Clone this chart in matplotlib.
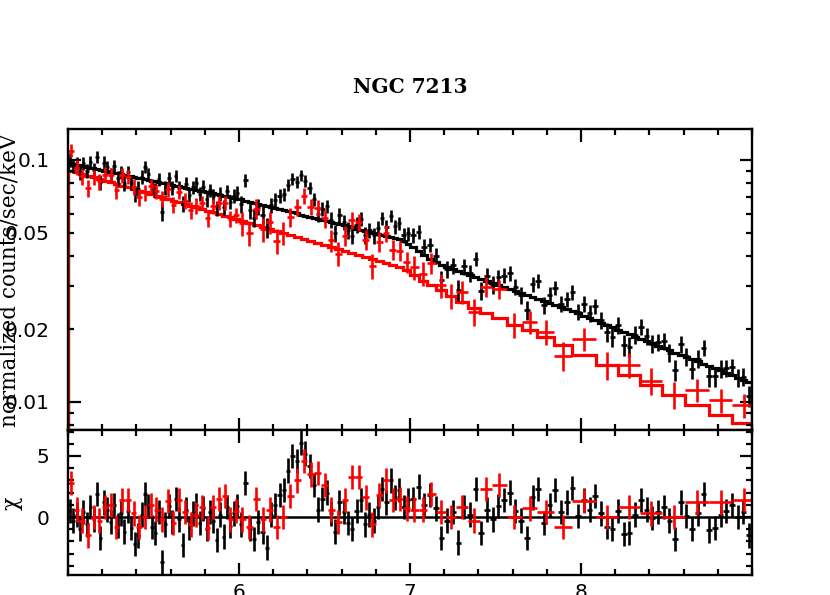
import numpy as np
import matplotlib
matplotlib.use('Agg')
import matplotlib.pyplot as plt
from matplotlib.ticker import MultipleLocator

# Bin edges (keV)
black_edges = [
    5.00, 5.02, 5.04, 5.06, 5.08, 5.10, 5.12, 5.14, 5.16, 5.18, 5.20, 5.22, 5.24, 5.26, 5.28,
    5.30, 5.32, 5.34, 5.36, 5.38, 5.40, 5.42, 5.44, 5.46, 5.48, 5.50, 5.52, 5.54, 5.56, 5.58,
    5.60, 5.62, 5.64, 5.66, 5.68, 5.70, 5.72, 5.74, 5.76, 5.78, 5.80, 5.82, 5.84, 5.86, 5.88,
    5.90, 5.92, 5.94, 5.96, 5.98, 6.00,
    6.025, 6.05, 6.075, 6.10, 6.125, 6.15, 6.175, 6.20, 6.225, 6.25, 6.275, 6.30, 6.325, 6.35,
    6.375, 6.40, 6.425, 6.45, 6.475, 6.50, 6.525, 6.55, 6.575, 6.60, 6.625, 6.65, 6.675, 6.70,
    6.725, 6.75, 6.775, 6.80, 6.825, 6.85, 6.875, 6.90, 6.925, 6.95, 6.975, 7.00,
    7.033, 7.067, 7.10, 7.133, 7.167, 7.20, 7.233, 7.267, 7.30, 7.333, 7.367, 7.40, 7.433, 7.467,
    7.50, 7.533, 7.567, 7.60, 7.633, 7.667, 7.70, 7.733, 7.767, 7.80, 7.833, 7.867, 7.90, 7.933,
    7.967, 8.00,
    8.033, 8.067, 8.10, 8.133, 8.167, 8.20, 8.233, 8.267, 8.30, 8.333, 8.367, 8.40, 8.433, 8.467,
    8.50, 8.533, 8.567, 8.60, 8.633, 8.667, 8.70, 8.733, 8.767, 8.80, 8.833, 8.867, 8.90, 8.933,
    8.967, 9.00,
]

# folded model, counts/sec/keV
black_model = [
    0.0968, 0.0961, 0.0955, 0.0948, 0.0942, 0.0935, 0.0929, 0.0922, 0.0916, 0.0910,
    0.0903, 0.0897, 0.0891, 0.0885, 0.0879, 0.0873, 0.0867, 0.0861, 0.0855, 0.0849,
    0.0843, 0.0838, 0.0832, 0.0826, 0.0821, 0.0815, 0.0810, 0.0804, 0.0799, 0.0793,
    0.0788, 0.0782, 0.0777, 0.0772, 0.0767, 0.0761, 0.0756, 0.0751, 0.0746, 0.0741,
    0.0736, 0.0731, 0.0726, 0.0721, 0.0716, 0.0711, 0.0706, 0.0701, 0.0697, 0.0692,
    0.0686, 0.0679, 0.0672, 0.0665, 0.0659, 0.0652, 0.0645, 0.0639, 0.0632, 0.0626,
    0.0619, 0.0613, 0.0607, 0.0601, 0.0594, 0.0588, 0.0582, 0.0576, 0.0571, 0.0565,
    0.0559, 0.0553, 0.0548, 0.0542, 0.0537, 0.0531, 0.0526, 0.0520, 0.0515, 0.0510,
    0.0505, 0.0499, 0.0494, 0.0489, 0.0484, 0.0479, 0.0474, 0.0470, 0.0462, 0.0449,
    0.0437, 0.0421, 0.0405, 0.0390, 0.0379, 0.0368, 0.0362, 0.0355, 0.0348, 0.0341,
    0.0335, 0.0329, 0.0322, 0.0316, 0.0310, 0.0305, 0.0299, 0.0293, 0.0288, 0.0282,
    0.0277, 0.0272, 0.0267, 0.0262, 0.0257, 0.0252, 0.0247, 0.0243, 0.0238, 0.0234,
    0.0227, 0.0222, 0.0217, 0.0212, 0.0208, 0.0203, 0.0199, 0.0195, 0.0190, 0.0186,
    0.0182, 0.0178, 0.0175, 0.0171, 0.0167, 0.0164, 0.0160, 0.0157, 0.0153, 0.0150,
    0.0147, 0.0144, 0.0141, 0.0138, 0.0135, 0.0132, 0.0129, 0.0126, 0.0123, 0.0121,
]

# residuals (data - model) / error
black_chi = [
    0.5, -0.3, 0.2, -1.0, 0.4, -0.6, 0.8, -0.2, 1.9, -1.7,
    1.2, 0.6, -0.4, 1.0, -0.7, 0.3, -1.2, 0.5, -0.9, -2.2,
    -1.5, 0.2, 1.9, 0.9, -0.8, -1.3, 0.4, -3.7, -0.6, 0.9,
    -0.4, 1.5, -0.2, -2.3, 0.6, -0.9, 0.3, 1.0, -0.5, 0.7,
    -1.0, 0.4, -0.3, -1.9, 0.2, -1.6, 0.8, -0.7, 0.3, 0.9,
    -0.6, 2.8, -1.0, -1.8, -0.4, -1.2, -2.5, 0.2, 1.0, 1.8,
    2.2, 3.8, 5.0, 4.6, 6.1, 5.2, 4.2, 2.6, 0.6, 1.5,
    2.0, 0.3, -1.2, 1.2, 0.4, -0.5, -1.0, 0.5, 1.4, -0.6,
    0.2, -0.3, 0.8, 2.3, 1.2, 3.0, 1.6, 2.2, 0.8, 1.4,
    1.5, 2.5, 1.0, 1.8, 0.7, -1.7, -0.3, 0.4, -2.1, 0.8,
    0.2, 2.3, -1.3, 0.6, -0.2, 0.9, 1.4, 2.0, 0.5, -0.3,
    -1.7, 1.6, 2.3, -0.5, 1.0, 2.2, 0.4, 1.2, 2.4, 0.1,
    1.4, 0.6, 1.7, 0.3, -0.8, -1.0, 0.5, -1.4, -1.3, 0.2,
    1.4, 0.6, -0.1, 0.4, 0.8, -0.3, -1.8, 1.2, 0.1, -1.0,
    0.3, 1.9, -1.1, -0.9, 0.2, 0.5, 1.0, 0.0, 0.4, -1.5,
]

# fractional 1-sigma error in 5-6, 6-7, 7-8, 8-9 keV
black_frac = [0.065, 0.075, 0.08, 0.085]

red_edges = [
    5.00, 5.033, 5.067, 5.10, 5.133, 5.167, 5.20, 5.233, 5.267, 5.30, 5.333, 5.367, 5.40,
    5.433, 5.467, 5.50, 5.533, 5.567, 5.60, 5.633, 5.667, 5.70, 5.733, 5.767, 5.80, 5.833,
    5.867, 5.90, 5.933, 5.967, 6.00,
    6.04, 6.08, 6.12, 6.16, 6.20, 6.24, 6.28, 6.32, 6.36, 6.40, 6.44, 6.48, 6.52, 6.56,
    6.60, 6.64, 6.68, 6.72, 6.76, 6.80, 6.84, 6.88, 6.92, 6.96, 7.00,
    7.05, 7.10, 7.15, 7.21, 7.27, 7.34, 7.41, 7.48, 7.565, 7.655, 7.745, 7.84, 7.945,
    8.09, 8.215, 8.345, 8.475, 8.61, 8.75, 8.885, 9.02,
]

red_model = [
    0.0902, 0.0888, 0.0874, 0.0860, 0.0847, 0.0833, 0.0820, 0.0807, 0.0795, 0.0782,
    0.0770, 0.0758, 0.0746, 0.0734, 0.0723, 0.0711, 0.0700, 0.0689, 0.0678, 0.0668,
    0.0657, 0.0647, 0.0637, 0.0627, 0.0617, 0.0607, 0.0598, 0.0588, 0.0579, 0.0570,
    0.0559, 0.0549, 0.0539, 0.0529, 0.0518, 0.0508, 0.0499, 0.0489, 0.0480, 0.0471,
    0.0462, 0.0454, 0.0445, 0.0437, 0.0429, 0.0421, 0.0413, 0.0405, 0.0397, 0.0390,
    0.0383, 0.0375, 0.0368, 0.0361, 0.0351,
    0.0335, 0.0316, 0.0305, 0.0290, 0.0274, 0.0259, 0.0245, 0.0234, 0.0223, 0.0208,
    0.0198, 0.0186, 0.0172,
    0.0156, 0.0142, 0.0129, 0.0118, 0.0107, 0.0097, 0.0088, 0.0082,
]

red_chi = [
    2.8, 0.6, -0.3, -1.5, 0.0, -0.3, 0.8, 1.0, -0.8, 1.4,
    1.4, 0.3, -0.8, 0.0, 1.0, 0.6, -0.2, 1.3, -0.5, 1.4,
    0.4, -0.6, 0.2, 0.8, -0.9, 0.8, 1.5, 1.7, -0.2, 0.5,
    -0.2, -0.8, 1.5, -0.2, 0.6, -0.8, 0.0, 1.7, 3.0, 4.6,
    3.5, 3.6, 2.6, 0.6, -0.4, 1.4, 3.3, 3.3, 1.6, -0.6,
    1.8, 3.0, 1.4, 1.5, 0.7,
    0.6, 0.6, 1.9, 0.4, 0.0, 0.8, -0.3, 2.3, 2.6, 0.0,
    0.7, 0.4, -0.8,
    1.3, 0.0, 0.8, 0.3, 0.0, 1.2, 1.2, 1.4,
]

red_frac = [0.075, 0.11, 0.12, 0.13]

title = 'NGC 7213'
ylabel_top = 'normalized counts/sec/keV'
ylabel_bottom = '\u03c7'


def prepare(edges, model, chi, frac):
    edges = np.array(edges)
    centers = (edges[:-1] + edges[1:]) / 2
    half = (edges[1:] - edges[:-1]) / 2
    model = np.array(model)
    chi = np.array(chi)
    seg = np.clip((centers - 5.0).astype(int), 0, 3)
    err = model * np.array(frac)[seg]
    data = model + chi * err
    return edges, centers, half, model, chi, err, data


black = prepare(black_edges, black_model, black_chi, black_frac)
red = prepare(red_edges, red_model, red_chi, red_frac)

W, H = 830, 595
fig = plt.figure(figsize=(W / 100, H / 100), dpi=100)
ax1 = fig.add_axes([68 / W, 165 / H, 684 / W, 301 / H])
ax2 = fig.add_axes([68 / W, 20 / H, 684 / W, 145 / H])

ax2.axhline(0, color='black', lw=1.8, zorder=1)

for ds, col in [(black, 'black'), (red, '#ff0000')]:
    edges, centers, half, model, chi, err, data = ds
    ax1.errorbar(centers, data, xerr=half, yerr=err, fmt='none',
                 ecolor=col, elinewidth=1.9, capsize=0)
    ax1.stairs(model, edges, color=col, lw=2.3)
    ax2.errorbar(centers, chi, xerr=half, yerr=1.0, fmt='none',
                 ecolor=col, elinewidth=1.9, capsize=0)

ax1.set_yscale('log')
ax1.set_xlim(5.0, 9.0)
ax1.set_ylim(0.00766, 0.134)
ax2.set_xlim(5.0, 9.0)
ax2.set_ylim(-4.75, 7.13)

ax1.set_yticks([0.01, 0.1], ['0.01', '0.1'])
ax1.set_yticks([0.008, 0.009, 0.02, 0.03, 0.04, 0.05, 0.06, 0.07, 0.08, 0.09],
               ['', '', '0.02', '', '', '0.05', '', '', '', ''], minor=True)
ax2.set_yticks([0, 5], ['0', '5'])
ax2.yaxis.set_minor_locator(MultipleLocator(1))

for ax in (ax1, ax2):
    ax.set_xticks([6, 7, 8], ['6', '7', '8'])
    ax.xaxis.set_minor_locator(MultipleLocator(0.2))
    ax.tick_params(which='both', direction='in', top=True, right=True,
                   width=1.6, labelsize=14.5, pad=13.5)
    ax.tick_params(which='major', length=9)
    ax.tick_params(which='minor', length=4.5)
    ax.tick_params(axis='x', pad=6)
    for sp in ax.spines.values():
        sp.set_linewidth(1.7)

ax1.tick_params(axis='x', which='both', labelbottom=False)

fig.text(410 / W, 1 - 87 / H, title, ha='center', va='center',
         family='DejaVu Serif', fontweight='bold', fontsize=14.5)
fig.text(10 / W, 1 - 280 / H, ylabel_top, rotation=90, ha='center', va='center',
         family='DejaVu Serif', fontsize=15.5)
fig.text(12 / W, 1 - 503 / H, ylabel_bottom, rotation=90, ha='center', va='center',
         family='DejaVu Serif', fontsize=16)

fig.savefig('out.png', dpi=100)
